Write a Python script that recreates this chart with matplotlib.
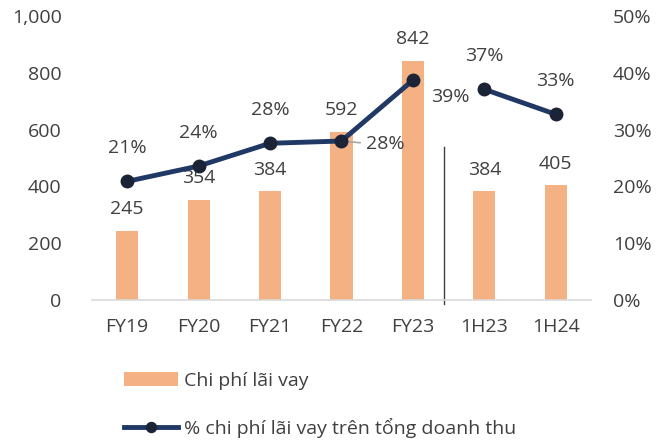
import matplotlib.pyplot as plt
import numpy as np

plt.rcParams['font.family'] = ['Open Sans', 'DejaVu Sans']

categories = ["FY19", "FY20", "FY21", "FY22", "FY23", "1H23", "1H24"]
interest_cost = [245, 354, 384, 592, 842, 384, 405]
pct_of_revenue = [20.9, 23.6, 27.6, 28.0, 38.7, 37.1, 32.7]
pct_labels = ["21%", "24%", "28%", "28%", "39%", "37%", "33%"]

bar_color = "#F4B183"
line_color = "#203864"
marker_color = "#1B2436"
text_color = "#404040"
fs = 14

fig = plt.figure(figsize=(6.63, 4.44), dpi=100)
ax = fig.add_axes([0.139, 0.324, 0.752, 0.64])
ax2 = ax.twinx()

x = np.arange(len(categories))
ax.bar(x, interest_cost, width=0.31, color=bar_color, zorder=1,
       label="Chi phí lãi vay")
ax.set_ylim(0, 1000)
ax.set_xlim(-0.49, 6.49)
ax.set_yticks(range(0, 1001, 200))
ax.set_yticklabels(["0", "200", "400", "600", "800", "1,000"])
ax.set_xticks(x)
ax.set_xticklabels(categories)

ax2.set_ylim(0, 50)
ax2.set_yticks(range(0, 51, 10))
ax2.set_yticklabels([f"{v}%" for v in range(0, 51, 10)])

for a in (ax, ax2):
    for s in a.spines.values():
        s.set_visible(False)
    a.tick_params(length=0, labelsize=fs, colors=text_color)
ax.tick_params(axis='x', pad=13)
ax.tick_params(axis='y', pad=22)
ax2.tick_params(axis='y', pad=16)
ax.spines['bottom'].set_visible(True)
ax.spines['bottom'].set_color("#D9D9D9")
ax.spines['bottom'].set_linewidth(1.2)

ax2.plot(x[:5], pct_of_revenue[:5], color=line_color, lw=3.5, zorder=3,
         marker='o', markersize=9, markerfacecolor=marker_color,
         markeredgecolor=marker_color,
         label="% chi phí lãi vay trên tổng doanh thu")
ax2.plot(x[5:], pct_of_revenue[5:], color=line_color, lw=3.5, zorder=3,
         marker='o', markersize=9, markerfacecolor=marker_color,
         markeredgecolor=marker_color)

ax.plot([4.44, 4.44], [-12, 540], color="#404040", lw=1, clip_on=False, zorder=2)

for i, v in enumerate(interest_cost):
    ax.annotate(str(v), (i, v), xytext=(0, 9), textcoords='offset points',
                ha='center', va='bottom', fontsize=fs, color=text_color, zorder=2)

for i, (v, lab) in enumerate(zip(pct_of_revenue, pct_labels)):
    if i == 3:
        ax2.plot([i, i + 0.26], [v, v - 0.3], color="#A6A6A6", lw=1.2, zorder=2)
        ax2.annotate(lab, (i, v), xytext=(18, -2), textcoords='offset points',
                     ha='left', va='center', fontsize=fs, color=text_color, zorder=4)
    elif i == 4:
        ax2.annotate(lab, (i, v), xytext=(27, -12), textcoords='offset points',
                     ha='center', va='center', fontsize=fs, color=text_color, zorder=4)
    else:
        ax2.annotate(lab, (i, v), xytext=(0, 24), textcoords='offset points',
                     ha='center', va='center', fontsize=fs, color=text_color, zorder=4)

h1, l1 = ax.get_legend_handles_labels()
h2, l2 = ax2.get_legend_handles_labels()
fig.legend(h1 + h2, l1 + l2, loc='upper left', bbox_to_anchor=(0.176, 0.18),
           frameon=False, fontsize=fs, labelcolor=text_color,
           handlelength=2.75, handletextpad=0.3, labelspacing=1.45,
           borderaxespad=0, markerscale=0.8)

fig.savefig("out.png", dpi=100)
